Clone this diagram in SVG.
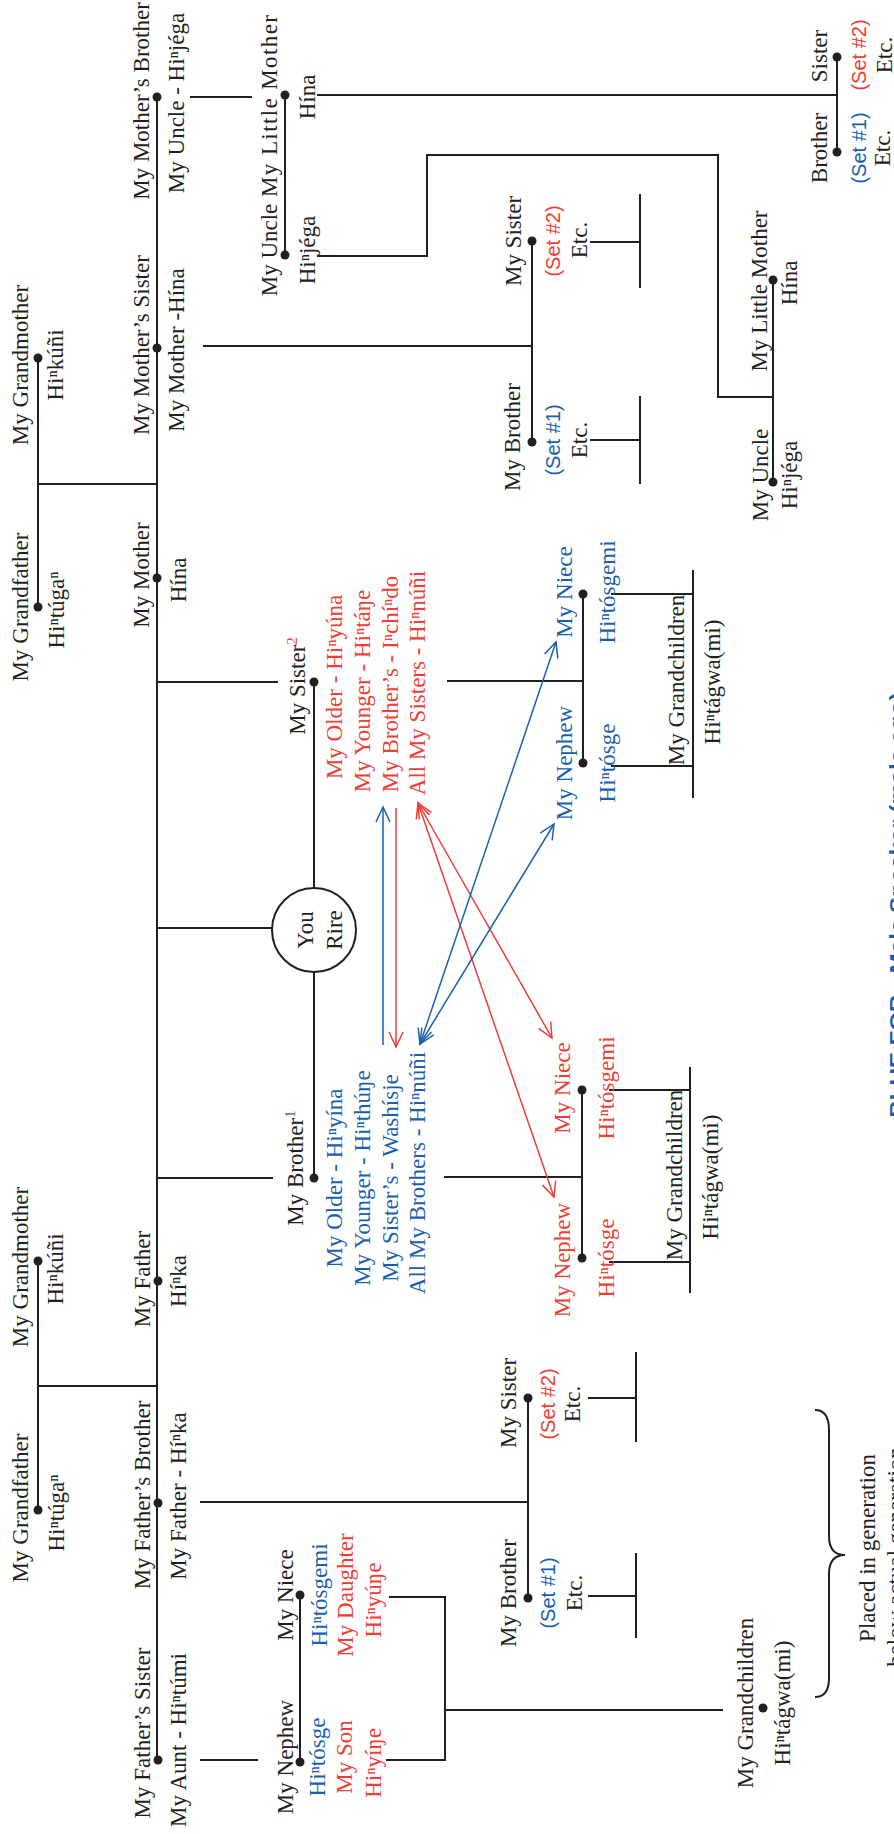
<svg xmlns="http://www.w3.org/2000/svg" width="894" height="1834" viewBox="0 0 894 1834">
<defs>
<style>
text{font-family:"Liberation Serif","Times New Roman",serif;font-size:23px;fill:#231f20;text-anchor:middle}
.r{fill:#ee3e36}
.b{fill:#1a5fae}
.s{font-family:"Liberation Sans",Arial,sans-serif;font-size:20px}
.bf{font-family:"Liberation Sans",Arial,sans-serif;font-size:21px;font-weight:bold;fill:#1a5fae}
.ln{fill:none;stroke:#231f20;stroke-width:2}
.dot{fill:#231f20}
.ar{fill:none;stroke:#ee3e36;stroke-width:1.5}
.ab{fill:none;stroke:#1a5fae;stroke-width:1.5}
</style>
<marker id="mr" markerUnits="userSpaceOnUse" markerWidth="18" markerHeight="16" refX="16" refY="8" orient="auto-start-reverse"><path d="M1,1 L16,8 L1,15" fill="none" stroke="#ee3e36" stroke-width="1.5"/></marker>
<marker id="mb" markerUnits="userSpaceOnUse" markerWidth="18" markerHeight="16" refX="16" refY="8" orient="auto-start-reverse"><path d="M1,1 L16,8 L1,15" fill="none" stroke="#1a5fae" stroke-width="1.5"/></marker>
</defs>
<rect width="894" height="1834" fill="#fff"/>

<g id="connectors">
<path class="ln" d="M157,97 V1760"/>
<path class="ln" d="M38,358 V607 M38,484 H157 M38,1261 V1510 M38,1386 H157"/>
<path class="ln" d="M157,682 H278 M157,928 H272 M157,1178 H273 M314,682 V888 M314,972 V1178"/>
<path class="ln" d="M190,97 H252 M285,95 V255 M317,95 H837 M837,57 V152"/>
<path class="ln" d="M317,256 H427 V155 H718 V397 H773 M773,280 V482"/>
<path class="ln" d="M203,346 H532 M532,241 V442 M590,242 H640 M640,194 V288 M590,440 H640 M640,396 V484"/>
<path class="ln" d="M447,681 H583 M583,594 V763 M611,594 H693 M611,766 H693 M693,570 V798"/>
<path class="ln" d="M444,1177 H582 M582,1090 V1258 M609,1090 H690 M609,1262 H690 M690,1067 V1293"/>
<path class="ln" d="M200,1502 H528 M528,1398 V1598 M588,1398 H636 M636,1352 V1442 M588,1596 H636 M636,1553 V1638"/>
<path class="ln" d="M200,1760 H258 M300,1595 V1762 M389,1597 H445 V1760 H386 M445,1710 H723"/>
<path class="ln" stroke-width="1.6" d="M815,1410 Q829,1410 829,1430 V1536 Q829,1555 845,1555 Q829,1555 829,1574 V1678 Q829,1697 815,1697"/>
<line class="ab" x1="383" y1="1045" x2="383" y2="807" marker-end="url(#mb)"/>
<line class="ar" x1="396" y1="808" x2="396" y2="1047" marker-end="url(#mr)"/>
<line class="ar" x1="418" y1="803" x2="552" y2="1038" marker-start="url(#mr)" marker-end="url(#mr)"/>
<line class="ar" x1="418" y1="803" x2="554" y2="1197" marker-start="url(#mr)" marker-end="url(#mr)"/>
<line class="ab" x1="420" y1="1044" x2="556" y2="642" marker-start="url(#mb)" marker-end="url(#mb)"/>
<line class="ab" x1="420" y1="1044" x2="554" y2="824" marker-start="url(#mb)" marker-end="url(#mb)"/>
</g>

<g id="dots">
<circle class="dot" cx="38" cy="358" r="4.5"/><circle class="dot" cx="38" cy="607" r="4.5"/>
<circle class="dot" cx="38" cy="1261" r="4.5"/><circle class="dot" cx="38" cy="1510" r="4.5"/>
<circle class="dot" cx="157" cy="97" r="4.5"/><circle class="dot" cx="157" cy="348" r="4.5"/>
<circle class="dot" cx="157" cy="578" r="4.5"/><circle class="dot" cx="158" cy="1281" r="4.5"/>
<circle class="dot" cx="158" cy="1503" r="4.5"/><circle class="dot" cx="158" cy="1760" r="4.5"/>
<circle class="dot" cx="285" cy="95" r="4.5"/><circle class="dot" cx="285" cy="255" r="4.5"/>
<circle class="dot" cx="837" cy="57" r="4.5"/><circle class="dot" cx="837" cy="152" r="4.5"/>
<circle class="dot" cx="773" cy="280" r="4.5"/><circle class="dot" cx="773" cy="482" r="4.5"/>
<circle class="dot" cx="532" cy="241" r="4.5"/><circle class="dot" cx="532" cy="442" r="4.5"/>
<circle class="dot" cx="314" cy="682" r="4.5"/><circle class="dot" cx="314" cy="1178" r="4.5"/>
<circle class="dot" cx="583" cy="594" r="4.5"/><circle class="dot" cx="583" cy="763" r="4.5"/>
<circle class="dot" cx="582" cy="1090" r="4.5"/><circle class="dot" cx="582" cy="1258" r="4.5"/>
<circle class="dot" cx="528" cy="1398" r="4.5"/><circle class="dot" cx="528" cy="1598" r="4.5"/>
<circle class="dot" cx="300" cy="1595" r="4.5"/><circle class="dot" cx="300" cy="1762" r="4.5"/>
<circle class="dot" cx="763" cy="1708" r="4.5"/>
</g>

<g id="maternal-grandparents">
<text transform="translate(28,365) rotate(-90)">My Grandmother</text>
<text transform="translate(63,365) rotate(-90)">Hiⁿkúñi</text>
<text transform="translate(28,607) rotate(-90)">My Grandfather</text>
<text transform="translate(64,610) rotate(-90)">Hiⁿtúgaⁿ</text>
</g>
<g id="paternal-grandparents">
<text transform="translate(28,1267) rotate(-90)">My Grandmother</text>
<text transform="translate(63,1269) rotate(-90)">Hiⁿkúñi</text>
<text transform="translate(28,1508) rotate(-90)">My Grandfather</text>
<text transform="translate(64,1513) rotate(-90)">Hiⁿtúgaⁿ</text>
</g>
<g id="mothers-brother">
<text transform="translate(149,101) rotate(-90)">My Mother’s Brother</text>
<text transform="translate(184,103) rotate(-90)">My Uncle - Hiⁿjéga</text>
</g>
<g id="mothers-sister">
<text transform="translate(149,345) rotate(-90)">My Mother’s Sister</text>
<text transform="translate(184,350) rotate(-90)">My Mother -Hína</text>
</g>
<g id="mother">
<text transform="translate(149,575) rotate(-90)">My Mother</text>
<text transform="translate(186,580) rotate(-90)">Hína</text>
</g>
<g id="father">
<text transform="translate(150,1279) rotate(-90)">My Father</text>
<text transform="translate(186,1281) rotate(-90)">Híⁿka</text>
</g>
<g id="fathers-brother">
<text transform="translate(150,1495) rotate(-90)">My Father’s Brother</text>
<text transform="translate(186,1496) rotate(-90)">My Father - Híⁿka</text>
</g>
<g id="fathers-sister">
<text transform="translate(150,1733) rotate(-90)">My Father’s Sister</text>
<text transform="translate(186,1740) rotate(-90)">My Aunt - Hiⁿtúmi</text>
</g>

<g id="little-mother-1">
<text transform="translate(277,106) rotate(-90)" textLength="182">My Little Mother</text>
<text transform="translate(315,97) rotate(-90)">Hína</text>
</g>
<g id="uncle-1">
<text transform="translate(277,250) rotate(-90)">My Uncle</text>
<text transform="translate(315,250) rotate(-90)">Hiⁿjéga</text>
</g>
<g id="little-mother-2">
<text transform="translate(767,291) rotate(-90)">My Little Mother</text>
<text transform="translate(797,283) rotate(-90)">Hína</text>
</g>
<g id="uncle-2">
<text transform="translate(768,475) rotate(-90)">My Uncle</text>
<text transform="translate(797,475) rotate(-90)">Hiⁿjéga</text>
</g>
<g id="sister-top">
<text transform="translate(827,56) rotate(-90)">Sister</text>
<text class="s r" transform="translate(866,55) rotate(-90)">(Set #2)</text>
<text transform="translate(892,55) rotate(-90)">Etc.</text>
</g>
<g id="brother-top">
<text transform="translate(827,148) rotate(-90)">Brother</text>
<text class="s b" transform="translate(866,148) rotate(-90)">(Set #1)</text>
<text transform="translate(890,148) rotate(-90)">Etc.</text>
</g>

<g id="ms-sister">
<text transform="translate(521,241) rotate(-90)">My Sister</text>
<text class="s r" transform="translate(560,241) rotate(-90)">(Set #2)</text>
<text transform="translate(587,240) rotate(-90)">Etc.</text>
</g>
<g id="ms-brother">
<text transform="translate(520,437) rotate(-90)">My Brother</text>
<text class="s b" transform="translate(560,440) rotate(-90)">(Set #1)</text>
<text transform="translate(587,440) rotate(-90)">Etc.</text>
</g>

<g id="my-sister">
<text transform="translate(305,686) rotate(-90)">My Sister<tspan class="r" font-size="15" dy="-8">2</tspan></text>
<text class="r" transform="translate(342,687) rotate(-90)">My Older - Hiⁿyúna</text>
<text class="r" transform="translate(370,691) rotate(-90)">My Younger - Hiⁿtáŋe</text>
<text class="r" transform="translate(398,684) rotate(-90)">My Brother’s - Iⁿchíⁿdo</text>
<text class="r" transform="translate(425,683) rotate(-90)">All My Sisters - Hiⁿnúñi</text>
</g>
<g id="you">
<circle cx="314" cy="930" r="42" fill="#fff" stroke="#231f20" stroke-width="2"/>
<text transform="translate(313,930) rotate(-90)">You</text>
<text transform="translate(342,930) rotate(-90)">Rire</text>
</g>
<g id="my-brother">
<text transform="translate(303,1168) rotate(-90)">My Brother<tspan class="b" font-size="15" dy="-8">1</tspan></text>
<text class="b" transform="translate(342,1178) rotate(-90)">My Older - Hiⁿyína</text>
<text class="b" transform="translate(370,1178) rotate(-90)">My Younger - Hiⁿthúŋe</text>
<text class="b" transform="translate(398,1178) rotate(-90)">My Sister’s - Washísje</text>
<text class="b" transform="translate(425,1173) rotate(-90)">All My Brothers - Hiⁿnúñi</text>
</g>

<g id="sisters-children">
<text class="b" transform="translate(572,592) rotate(-90)">My Niece</text>
<text class="b" transform="translate(615,592) rotate(-90)">Hiⁿtósgemi</text>
<text class="b" transform="translate(572,763) rotate(-90)">My Nephew</text>
<text class="b" transform="translate(615,763) rotate(-90)">Hiⁿtósge</text>
</g>
<g id="sisters-grandchildren">
<text transform="translate(684,680) rotate(-90)">My Grandchildren</text>
<text transform="translate(720,682) rotate(-90)">Hiⁿtágwa(mi)</text>
</g>
<g id="brothers-children">
<text class="r" transform="translate(570,1088) rotate(-90)">My Niece</text>
<text class="r" transform="translate(614,1088) rotate(-90)">Hiⁿtósgemi</text>
<text class="r" transform="translate(570,1260) rotate(-90)">My Nephew</text>
<text class="r" transform="translate(614,1258) rotate(-90)">Hiⁿtósge</text>
</g>
<g id="brothers-grandchildren">
<text transform="translate(682,1175) rotate(-90)">My Grandchildren</text>
<text transform="translate(718,1177) rotate(-90)">Hiⁿtágwa(mi)</text>
</g>

<g id="fb-sister">
<text transform="translate(516,1403) rotate(-90)">My Sister</text>
<text class="s r" transform="translate(555,1404) rotate(-90)">(Set #2)</text>
<text transform="translate(580,1404) rotate(-90)">Etc.</text>
</g>
<g id="fb-brother">
<text transform="translate(516,1593) rotate(-90)">My Brother</text>
<text class="s b" transform="translate(555,1593) rotate(-90)">(Set #1)</text>
<text transform="translate(582,1593) rotate(-90)">Etc.</text>
</g>

<g id="fs-niece">
<text transform="translate(293,1595) rotate(-90)">My Niece</text>
<text class="b" transform="translate(327,1595) rotate(-90)">Hiⁿtósgemi</text>
<text class="r" transform="translate(353,1595) rotate(-90)">My Daughter</text>
<text class="r" transform="translate(381,1600) rotate(-90)">Hiⁿyúŋe</text>
</g>
<g id="fs-nephew">
<text transform="translate(293,1757) rotate(-90)">My Nephew</text>
<text class="b" transform="translate(325,1757) rotate(-90)">Hiⁿtósge</text>
<text class="r" transform="translate(352,1757) rotate(-90)">My Son</text>
<text class="r" transform="translate(381,1763) rotate(-90)">Hiⁿyíŋe</text>
</g>
<g id="fs-grandchildren">
<text transform="translate(753,1703) rotate(-90)">My Grandchildren</text>
<text transform="translate(790,1703) rotate(-90)">Hiⁿtágwa(mi)</text>
</g>
<g id="note">
<text transform="translate(875,1548) rotate(-90)">Placed in generation</text>
<text transform="translate(903,1557) rotate(-90)">below actual generation</text>
<text class="bf" transform="translate(904,905) rotate(-90)" textLength="425" lengthAdjust="spacingAndGlyphs">BLUE FOR - Male Speaker (male ego)</text>
</g>
</svg>
